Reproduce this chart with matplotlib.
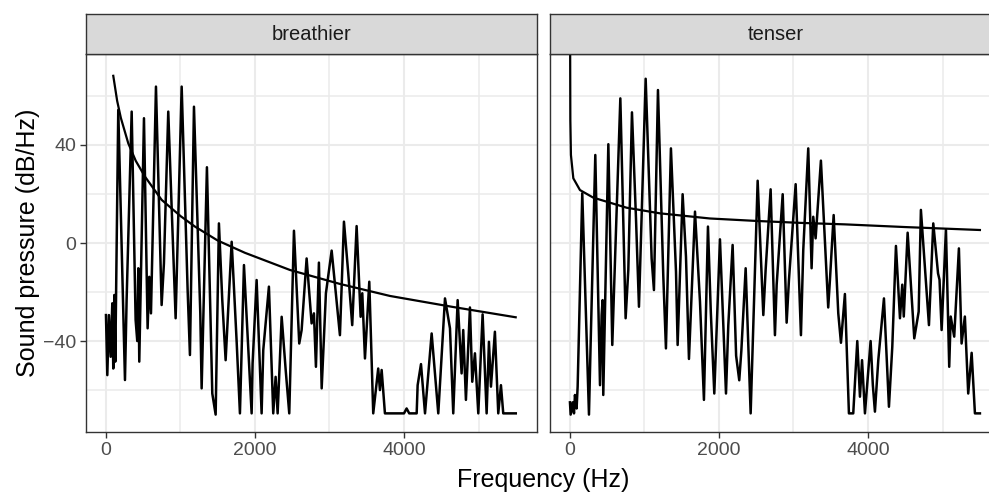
import matplotlib
matplotlib.use("Agg")
import matplotlib.pyplot as plt
from matplotlib.ticker import MultipleLocator

plt.rcParams['font.family'] = ['Liberation Sans', 'DejaVu Sans']

# spectrum, "breathier" voice (Hz, dB/Hz)
bre_freq = [0, 18, 40, 63, 85, 98, 112, 125, 165, 255, 277, 345, 398, 420, 434, 447,
            510, 559, 581, 604, 671, 747, 778, 836, 890, 935, 1016, 1096, 1127, 1181,
            1266, 1284, 1355, 1427, 1472, 1516, 1561, 1606, 1687, 1754, 1798, 1852,
            1955, 1968, 2022, 2089, 2111, 2187, 2245, 2277, 2304, 2358, 2412, 2460,
            2523, 2594, 2626, 2693, 2760, 2791, 2818, 2858, 2895, 2952, 3029, 3140,
            3194, 3252, 3305, 3364, 3418, 3440, 3476, 3534, 3587, 3654, 3677, 3700,
            3744, 4000, 4035, 4070, 4170, 4183, 4228, 4282, 4371, 4460, 4550, 4617,
            4661, 4720, 4773, 4795, 4831, 4885, 4916, 4952, 4997, 5055, 5109, 5140,
            5167, 5220, 5265, 5301, 5332, 5500]
bre_db = [-29.4, -53.9, -29.4, -46.4, -24.6, -51.2, -21.2, -48.4, 54.3, -55.9, -23.3,
          53.6, -31.4, -40, -10.3, -48.4, 50.9, -34.8, -13.8, -28.7, 63.8, -25.3, -8.3,
          53.6, 7.3, -30.7, 63.8, -19.2, -45.7, 55.6, -28.7, -59.3, 30.9, -61.4, -70,
          8, -23.3, -47.8, 0.5, -40.3, -69.5, -9, -69.5, -49.1, -15.1, -69.5, -43.7,
          -17.8, -69.5, -54.6, -69.5, -30.1, -51.8, -69.5, 5, -41, -35.5, -6.3, -32.8,
          -28.7, -50.5, -8, -59.3, -20.5, -3.1, -37.6, 8.7, -12.4, -33.5, 6.9, -30.1,
          -20.5, -47.1, -15.8, -69.5, -51.2, -60, -51.8, -69.5, -69.5, -67.5, -69.5,
          -69.5, -58, -49.4, -69.5, -36.9, -69.5, -22.6, -34.8, -69.5, -23.3, -53.2,
          -35.5, -64, -26.3, -56.6, -45, -69.5, -29.1, -69.5, -40.3, -58.6, -36.2,
          -69.5, -58, -69.5, -69.5]

# spectrum, "tenser" voice
ten_freq = [0, 9, 36, 54, 67, 89, 103, 165, 255, 277, 340, 403, 425, 438, 447, 515,
            568, 590, 676, 747, 783, 832, 886, 926, 1016, 1096, 1127, 1181, 1252, 1288,
            1355, 1423, 1445, 1512, 1557, 1597, 1678, 1745, 1798, 1852, 1890, 1937,
            2013, 2094, 2125, 2183, 2230, 2272, 2300, 2358, 2425, 2519, 2595, 2626,
            2693, 2751, 2774, 2855, 2908, 2939, 3029, 3100, 3131, 3198, 3243, 3265,
            3297, 3368, 3466, 3489, 3539, 3601, 3637, 3690, 3744, 3802, 3856, 3892,
            3920, 3959, 4035, 4065, 4093, 4138, 4214, 4281, 4326, 4375, 4429, 4460,
            4480, 4532, 4621, 4680, 4710, 4818, 4876, 4940, 4960, 4988, 5046, 5090,
            5110, 5157, 5220, 5256, 5300, 5345, 5391, 5435, 5502]
ten_db = [-65, -70, -65, -69.5, -62, -67.5, -58.6, 20.3, -70, -41.6, 35.9, -58, -29.4,
          -23.3, -62, 40.3, -41.6, -20.5, 59, -30.7, -11, 53.3, 10.1, -26, 67, -6.3,
          -19.2, 62.4, -13, -43, 38.6, -11.7, -41.6, 19.9, -5.6, -47.3, 12.8, -24, -64,
          6.7, -28, -61.4, 1.5, -61.4, -33.5, -0.8, -46, -56, -44, -10.3, -69.5, 25.4,
          -29.4, -11, 21.9, -37.6, -17.1, 19.9, -32.5, -15.1, 24, -37.6, -2.9, 38.6,
          -10.3, 10.7, 1.9, 33.6, -26.3, -15.1, 11.4, -28.7, -40.7, -20.8, -69.5, -69.5,
          -40, -62.7, -47.8, -69.5, -40, -58, -68.8, -47.8, -22.6, -66.8, -42.3, -1.2,
          -30.7, -17, -30, 4.2, -38.9, -28, 13.5, -33.5, 8, -12.4, -15, -35.5, 5.6,
          -50.5, -30, -38.2, -2.2, -41, -30, -61.4, -44.8, -69.5, -69.5]

# fitted slope lines
bre_fit_freq = [98, 150, 200, 299, 400, 523, 747, 1000, 1194, 1500, 1865, 2469, 3140,
                3811, 4639, 5499]
bre_fit_db = [68.2, 58, 51, 40.7, 33.5, 27.1, 17.6, 11, 6.7, 1, -4, -11, -16.7, -21.6,
              -26, -30.3]
ten_fit_freq = [1, 5, 13, 45, 134, 313, 760, 1208, 1879, 2500, 3100, 3690, 4500, 5502]
ten_fit_db = [95, 50, 35.9, 26.4, 21.6, 18.5, 14.4, 12.1, 10, 9, 8.2, 7.6, 6.5, 5.3]

panels = ["breathier", "tenser"]
spec = [(bre_freq, bre_db), (ten_freq, ten_db)]
fits = [(bre_fit_freq, bre_fit_db), (ten_fit_freq, ten_fit_db)]

W, H = 989, 492
fig = plt.figure(figsize=(W / 100, H / 100), dpi=100)

dark = '#333333'
grid = '#EBEBEB'
lefts = [86, 550]
pw = 451
top, bot = 54, 432

for i, name in enumerate(panels):
    x0 = lefts[i]
    ax = fig.add_axes([x0 / W, (H - bot) / H, pw / W, (bot - top) / H])
    ax.plot(spec[i][0], spec[i][1], color='black', lw=1.8,
            solid_joinstyle='round', zorder=3)
    ax.plot(fits[i][0], fits[i][1], color='black', lw=1.6, zorder=3)
    ax.set_xlim(-268, 5785)
    ax.set_ylim(-77.1, 77.1)
    ax.xaxis.set_major_locator(MultipleLocator(2000))
    ax.xaxis.set_minor_locator(MultipleLocator(1000))
    ax.yaxis.set_major_locator(MultipleLocator(40))
    ax.yaxis.set_minor_locator(MultipleLocator(20))
    ax.grid(which='major', color=grid, lw=1.5, zorder=0)
    ax.grid(which='minor', color=grid, lw=1.1, zorder=0)
    ax.set_axisbelow(True)
    for s in ax.spines.values():
        s.set_color(dark)
        s.set_linewidth(1.0)
    ax.tick_params(which='major', length=4, width=1.0, color=dark,
                   labelsize=14, labelcolor='#4D4D4D', pad=3)
    ax.tick_params(which='minor', length=0)
    if i == 1:
        ax.tick_params(axis='y', which='both', left=False, labelleft=False)

    # facet strip
    sax = fig.add_axes([x0 / W, (H - top) / H, pw / W, 40 / H])
    sax.set_facecolor('#D9D9D9')
    sax.set_xticks([])
    sax.set_yticks([])
    for s in sax.spines.values():
        s.set_color(dark)
        s.set_linewidth(1.0)
    sax.text(0.5, 0.5, name, ha='center', va='center', fontsize=14.5,
             color='#1A1A1A', transform=sax.transAxes)

fig.text(543.5 / W, (H - 480) / H, "Frequency (Hz)", ha='center', va='center',
         fontsize=18, color='black')
fig.text(28 / W, (H - 243) / H, "Sound pressure (dB/Hz)", ha='center', va='center',
         rotation=90, fontsize=18, color='black')

fig.savefig("out.png", dpi=100)
